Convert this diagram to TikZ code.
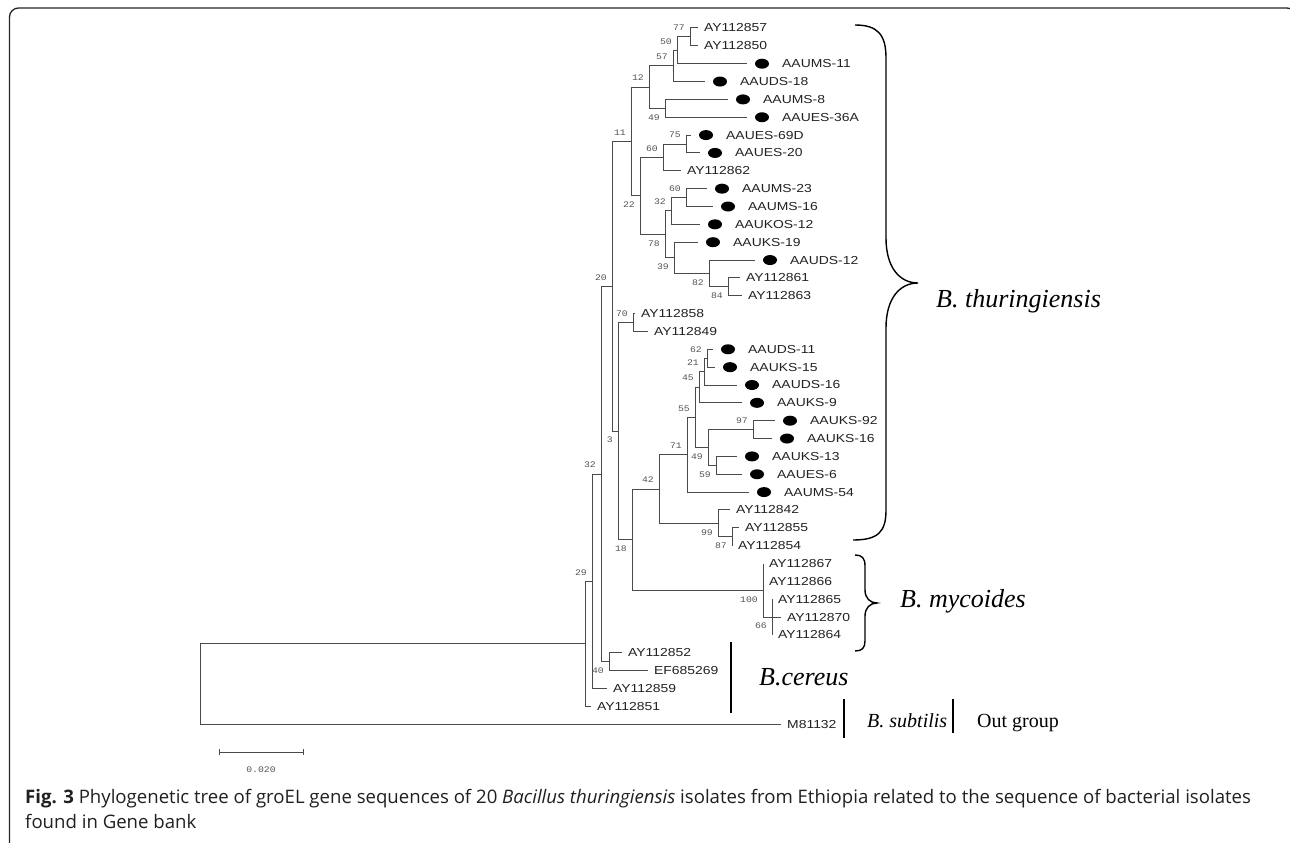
\documentclass[tikz,border=0pt]{standalone}
\usepackage{fontspec}
\setmainfont{Liberation Serif}
\newfontfamily\leaffont{Liberation Sans}
\newfontfamily\bsfont{Liberation Mono}
\newfontfamily\capfont{Open Sans}
\usetikzlibrary{calc,shapes.geometric}
\definecolor{branch}{HTML}{4A4A4A}
\definecolor{leaftxt}{HTML}{222222}
\definecolor{bstxt}{HTML}{555555}
\definecolor{captxt}{HTML}{231F20}
\tikzset{
  branchline/.style={draw=branch, line width=1pt},
  leaflab/.style={anchor=west, inner sep=0pt, font=\leaffont\fontsize{11.6}{12}\selectfont, text=leaftxt},
  dotm/.style={ellipse, fill=black, minimum width=14pt, minimum height=10pt, inner sep=0pt},
  bslab/.style={anchor=east, inner sep=0pt, font=\bsfont\fontsize{8.5}{9}\selectfont, text=bstxt},
  spbig/.style={anchor=base west, inner sep=0pt, font=\fontsize{26}{28}\selectfont\itshape},
  spsmall/.style={anchor=base west, inner sep=0pt, font=\fontsize{20}{22}\selectfont},
  vbar/.style={draw=black, line width=1.4pt},
  bracecurve/.style={draw=black, line width=1.4pt},
  captext/.style={anchor=base west, inner sep=0pt, font=\capfont\fontsize{18.6}{22}\selectfont, text=captxt},
  frameline/.style={draw=black!85, line width=1.3pt, rounded corners=9pt}
}
\newcommand\mkleaf[4]{%
  \coordinate (#1) at (#3,#2);
  \node[leaflab] (#1l) at ($(#1)+(6,0)$) {\scalebox{1.2}[1]{#4}};}
\newcommand\mkleafdot[4]{%
  \coordinate (#1) at (#3,#2);
  \node[dotm] (#1d) at ($(#1)+(15,0)$) {};
  \node[leaflab] (#1l) at ($(#1)+(35,0)$) {\scalebox{1.2}[1]{#4}};}
\newcommand\mknode[3]{\coordinate (#1) at (#2,#3);}
\newcommand\bootup[2]{\node[bslab] (#1b) at ($(#1)+(-5,-9)$) {\scalebox{1.15}[1]{#2}};}
\newcommand\bootdn[2]{\node[bslab] (#1b) at ($(#1)+(-5,9)$) {\scalebox{1.15}[1]{#2}};}
\begin{document}
\begin{tikzpicture}[x=1pt,y=-1pt]
\useasboundingbox (0,0) rectangle (1290,843);
\fill[white] (0,0) rectangle (1290,843);
% frame
\draw[frameline] (9.5,847) -- (9.5,8) -- (1296,8) -- (1296,847);
% leaves
\mkleaf{l1}{28}{698}{AY112857}
\mkleaf{l2}{45.85}{698}{AY112850}
\mkleafdot{l3}{63.7}{747}{AAUMS-11}
\mkleafdot{l4}{81.55}{705}{AAUDS-18}
\mkleafdot{l5}{99.4}{728}{AAUMS-8}
\mkleafdot{l6}{117.25}{747}{AAUES-36A}
\mkleafdot{l7}{135.1}{691}{AAUES-69D}
\mkleafdot{l8}{152.95}{700}{AAUES-20}
\mkleaf{l9}{170.8}{681}{AY112862}
\mkleafdot{l10}{188.65}{707}{AAUMS-23}
\mkleafdot{l11}{206.5}{713}{AAUMS-16}
\mkleafdot{l12}{224.35}{700}{AAUKOS-12}
\mkleafdot{l13}{242.2}{698}{AAUKS-19}
\mkleafdot{l14}{260.05}{755}{AAUDS-12}
\mkleaf{l15}{277.9}{740}{AY112861}
\mkleaf{l16}{295.75}{742}{AY112863}
\mkleaf{l17}{313.6}{635}{AY112858}
\mkleaf{l18}{331.45}{648}{AY112849}
\mkleafdot{l19}{349.3}{713}{AAUDS-11}
\mkleafdot{l20}{367.15}{715}{AAUKS-15}
\mkleafdot{l21}{385}{737}{AAUDS-16}
\mkleafdot{l22}{402.85}{742}{AAUKS-9}
\mkleafdot{l23}{420.7}{775}{AAUKS-92}
\mkleafdot{l24}{438.55}{772}{AAUKS-16}
\mkleafdot{l25}{456.4}{737}{AAUKS-13}
\mkleafdot{l26}{474.25}{742}{AAUES-6}
\mkleafdot{l27}{492.1}{749}{AAUMS-54}
\mkleaf{l28}{509.95}{730}{AY112842}
\mkleaf{l29}{527.8}{739}{AY112855}
\mkleaf{l30}{545.65}{732}{AY112854}
\mkleaf{l31}{563.5}{763}{AY112867}
\mkleaf{l32}{581.35}{763}{AY112866}
\mkleaf{l33}{599.2}{772}{AY112865}
\mkleaf{l34}{617.05}{781}{AY112870}
\mkleaf{l35}{634.9}{772}{AY112864}
\mkleaf{l36}{652.75}{622}{AY112852}
\mkleaf{l37}{670.6}{648}{EF685269}
\mkleaf{l38}{688.45}{607}{AY112859}
\mkleaf{l39}{706.3}{591}{AY112851}
\mkleaf{l40}{724.15}{781}{M81132}
% internal nodes
\mknode{n77}{690}{36.93}
\mknode{n50}{677}{50.31}
\mknode{n57}{673}{65.93}
\mknode{n49a}{665}{108.33}
\mknode{n12}{649}{87.13}
\mknode{n75}{686}{144.03}
\mknode{n60a}{663}{157.41}
\mknode{n60b}{686}{197.58}
\mknode{n32a}{671}{210.96}
\mknode{n84}{728}{286.83}
\mknode{n82}{709}{273.44}
\mknode{n39}{674}{257.82}
\mknode{n78}{665}{234.39}
\mknode{n22}{640}{195.9}
\mknode{n11}{631}{141.52}
\mknode{n70}{633}{322.53}
\mknode{n62}{707}{358.23}
\mknode{n21}{704}{371.61}
\mknode{n45}{699}{387.23}
\mknode{n97}{753}{429.63}
\mknode{n59}{716}{465.33}
\mknode{n49b}{708}{447.48}
\mknode{n55}{695}{417.35}
\mknode{n71}{687}{454.73}
\mknode{n87}{732}{536.73}
\mknode{n99}{718}{523.34}
\mknode{n42}{659}{489.03}
\mknode{n66}{772}{617.05}
\mknode{n100}{763}{590.28}
\mknode{n18}{632}{539.66}
\mknode{n3}{618}{431.09}
\mknode{n20}{612}{286.31}
\mknode{n40}{609}{661.68}
\mknode{nA}{601}{474.0}
\mknode{nB}{592}{581.23}
\mknode{nC}{585}{643.76}
\mknode{root}{200}{683.96}
% branches
\foreach \p/\c in {n77/l1, n77/l2, n50/n77, n50/l3, n57/n50, n57/l4,
  n49a/l5, n49a/l6, n12/n57, n12/n49a, n75/l7, n75/l8, n60a/n75, n60a/l9,
  n60b/l10, n60b/l11, n32a/n60b, n32a/l12, n84/l15, n84/l16, n82/l14, n82/n84,
  n39/l13, n39/n82, n78/n32a, n78/n39, n22/n60a, n22/n78, n11/n12, n11/n22,
  n70/l17, n70/l18, n62/l19, n62/l20, n21/n62, n21/l21, n45/n21, n45/l22,
  n97/l23, n97/l24, n59/l25, n59/l26, n49b/n97, n49b/n59, n55/n45, n55/n49b,
  n71/n55, n71/l27, n87/l29, n87/l30, n99/l28, n99/n87, n42/n71, n42/n99,
  n66/l33, n66/l34, n66/l35, n100/l31, n100/l32, n100/n66, n18/n42, n18/n100,
  n3/n70, n3/n18, n20/n11, n20/n3, n40/l36, n40/l37, nA/n20, nA/n40,
  nB/nA, nB/l38, nC/nB, nC/l39, root/nC, root/l40}
  \draw[branchline] (\p) |- (\c);
% bootstrap values
\bootup{n77}{77}\bootup{n50}{50}\bootup{n57}{57}\bootup{n12}{12}
\bootup{n75}{75}\bootup{n60a}{60}\bootup{n60b}{60}\bootup{n32a}{32}
\bootup{n11}{11}\bootup{n70}{70}\bootup{n62}{62}\bootup{n21}{21}
\bootup{n45}{45}\bootup{n97}{97}\bootup{n55}{55}\bootup{n71}{71}
\bootup{n42}{42}\bootup{n20}{20}\bootup{nA}{32}\bootup{nB}{29}
\bootdn{n49a}{49}\bootdn{n84}{84}\bootdn{n82}{82}\bootdn{n39}{39}
\bootdn{n78}{78}\bootdn{n22}{22}\bootdn{n59}{59}\bootdn{n49b}{49}
\bootdn{n87}{87}\bootdn{n99}{99}\bootdn{n66}{66}\bootdn{n100}{100}
\bootdn{n18}{18}\bootdn{n3}{3}\bootdn{n40}{40}
% scale bar
\coordinate (sbA) at (219,752);
\coordinate (sbB) at (303,752);
\draw[branchline] (sbA) -- (sbB);
\draw[branchline] ($(sbA)+(0,-3)$) -- ($(sbA)+(0,3)$);
\draw[branchline] ($(sbB)+(0,-3)$) -- ($(sbB)+(0,3)$);
\node[bslab, anchor=center] (sbl) at ($(sbA)!0.5!(sbB)+(0,18)$) {\scalebox{1.15}[1]{0.020}};
% braces and bars
\draw[bracecurve] (855,25) .. controls (878,25) and (886,35) .. (886,58) -- (886,238)
  .. controls (886,268) and (900,283) .. (918,283)
  .. controls (900,283) and (886,298) .. (886,328) -- (886,510)
  .. controls (886,532) and (878,540) .. (853,540);
\node[spbig] (bt) at (936,307) {B. thuringiensis};
\draw[bracecurve] (855,555) .. controls (862,555) and (865,558) .. (865,566) -- (865,590)
  .. controls (865,598) and (870,603) .. (877,603)
  .. controls (870,603) and (865,608) .. (865,616) -- (865,641)
  .. controls (865,648) and (862,651) .. (855,651);
\node[spbig] (bm) at (900,607) {B. mycoides};
\coordinate (cerA) at (731,642);
\coordinate (cerB) at (731,713);
\draw[vbar] (cerA) -- (cerB);
\node[spbig] (bc) at (759,685) {B.cereus};
\coordinate (subA) at (844,699);
\coordinate (subB) at (844,738);
\draw[vbar] (subA) -- (subB);
\node[spsmall, font=\fontsize{20}{22}\selectfont\itshape] (bs) at (867,727) {B. subtilis};
\coordinate (ogA) at (953,699);
\coordinate (ogB) at (953,733);
\draw[vbar] (ogA) -- (ogB);
\node[spsmall] (og) at (977,727) {Out group};
% caption
\node[captext] (cap1) at (25,803) {\textbf{Fig. 3} Phylogenetic tree of groEL gene sequences of 20 \textit{Bacillus thuringiensis} isolates from Ethiopia related to the sequence of bacterial isolates};
\node[captext] (cap2) at (25,828) {found in Gene bank};
\end{tikzpicture}
\end{document}
